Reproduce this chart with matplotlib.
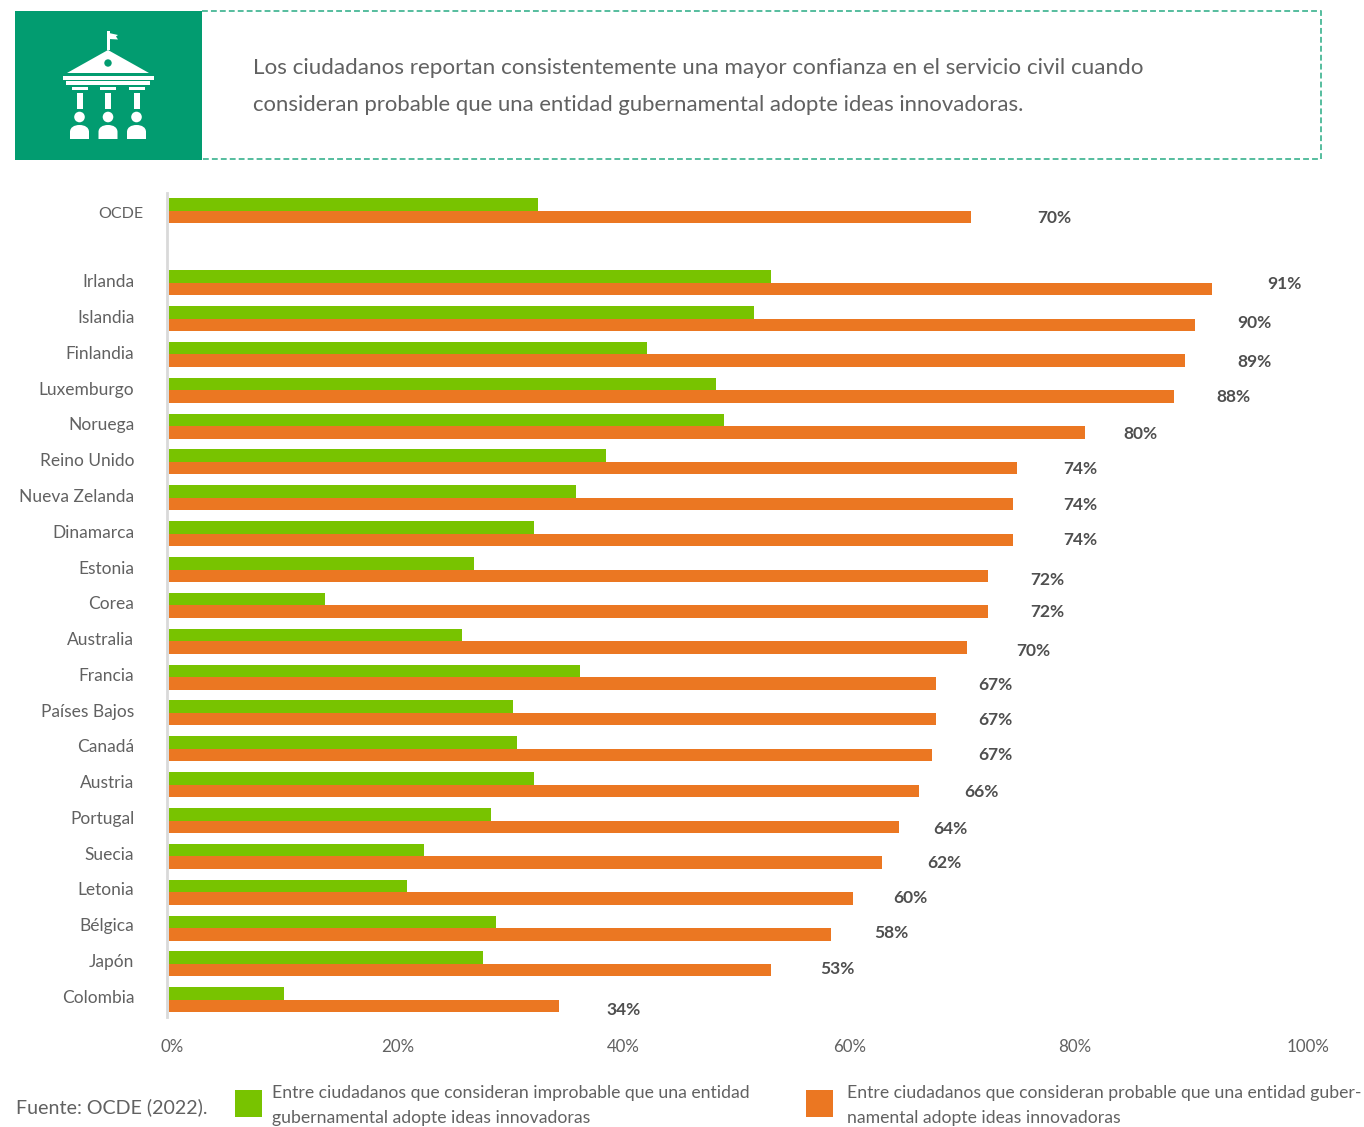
import numpy as np
import matplotlib
matplotlib.use("Agg")
import matplotlib.pyplot as plt
from matplotlib.patches import Rectangle, Polygon, Circle, PathPatch
from matplotlib.path import Path
from matplotlib.transforms import ScaledTranslation

# Survey results, in percent
countries = ["OCDE", "Irlanda", "Islandia", "Finlandia", "Luxemburgo", "Noruega", "Reino Unido",
             "Nueva Zelanda", "Dinamarca", "Estonia", "Corea", "Australia", "Francia",
             "Países Bajos", "Canadá", "Austria", "Portugal", "Suecia", "Letonia",
             "Bélgica", "Japón", "Colombia"]
unlikely = [32.3, 52.7, 51.2, 41.9, 47.9, 48.6, 38.3, 35.6, 32.0, 26.7, 13.7, 25.7,
            36.0, 30.1, 30.5, 32.0, 28.2, 22.3, 20.8, 28.6, 27.5, 10.1]
likely = [70.2, 91.3, 89.8, 89.0, 88.0, 80.2, 74.25, 73.9, 73.9, 71.7, 71.7, 69.85,
          67.2, 67.2, 66.8, 65.7, 63.9, 62.4, 59.9, 58.0, 52.75, 34.15]
# Row index of each country: OCDE is set apart from the rest by one empty row
rows = [0] + list(range(2, 23))
x_ticks = [0, 20, 40, 60, 80, 100]

# Hand-placed centres (px) of the value labels
label_x = [1054, 1284, 1254, 1254, 1233, 1140, 1080, 1080, 1080, 1047, 1047, 1033,
           995, 995, 995, 981, 950, 944, 910, 891, 837, 624]
label_y = [218, 284, 323, 362, 397, 434, 469, 505, 540, 580, 612, 651,
           685, 720, 755, 792, 829, 863, 898, 933, 969, 1010]
# Horizontal nudges (px) of the axis tick labels
tick_nudge = [3, 0, -3, -5, -7.5, -3]

W, H = 1364, 1127
GREEN, ORANGE = "#78C300", "#EB7722"
TEAL, DASH = "#029C70", "#55BD9E"
TEXT, TEXT_DARK = "#616161", "#4F4F4F"
plt.rcParams["font.family"] = ["Lato", "DejaVu Sans"]

fig = plt.figure(figsize=(W / 100, H / 100), dpi=100, facecolor="white")

# Overlay in pixel units for the banner, icon and legend
ov = fig.add_axes([0, 0, 1, 1], zorder=0)
ov.set_xlim(0, W)
ov.set_ylim(H, 0)
ov.axis("off")

# Chart axes: 0 % sits at x=169 px, 11.42 px per point, rows 35.85 px apart
left, right, top, bottom = 167, 1311, 193, 1017
ax = fig.add_axes([left / W, 1 - bottom / H, (right - left) / W, (bottom - top) / H], zorder=1)
ax.patch.set_alpha(0)
ax.set_xlim(-2 / 11.42, 100)
ax.set_ylim(22.48, -0.50)

bar_h = 0.349
y = np.array(rows, dtype=float)
ax.barh(y - bar_h / 2, unlikely, height=bar_h, color=GREEN, linewidth=0)
ax.barh(y + bar_h / 2, likely, height=bar_h, color=ORANGE, linewidth=0)

for s in ("top", "right", "bottom"):
    ax.spines[s].set_visible(False)
ax.spines["left"].set_color("#D9D9D9")
ax.spines["left"].set_linewidth(2)

# Country labels run on a slightly tighter pitch than the bars
label_px = np.array([213.0] + [281 + 35.75 * (r - 2) for r in rows[1:]])
ax.set_yticks((label_px - 211) / 35.85)
ax.set_yticklabels(countries, fontsize=12.5, color=TEXT)
ax.tick_params(axis="y", length=0, pad=23.5)
ax.yaxis.get_major_ticks()[0].set_pad(17)
ax.get_yticklabels()[0].set_fontsize(11.5)

ax.set_xticks(x_ticks)
ax.set_xticklabels([f"{t}%" for t in x_ticks], fontsize=12.2, color=TEXT)
ax.tick_params(axis="x", length=0, pad=15.5)
for lab, dx in zip(ax.get_xticklabels(), tick_nudge):
    lab.set_transform(lab.get_transform() + ScaledTranslation(dx / 100, 0, fig.dpi_scale_trans))

# Value labels for the orange series
for v, lx, ly in zip(likely, label_x, label_y):
    ov.text(lx, ly, f"{round(v)}%", ha="center", va="center", fontsize=12.5,
            fontweight="bold", color=TEXT_DARK)

# Banner: dashed outline open on the side of the green block
ov.plot([202, 1321, 1321, 202], [11, 11, 159, 159], color=DASH, linewidth=1.4, linestyle=(0, (3, 1.6)))
ov.add_patch(Rectangle((15, 11), 187, 149, facecolor=TEAL, edgecolor="none"))
ov.text(253, 68, "Los ciudadanos reportan consistentemente una mayor confianza en el servicio civil cuando",
        fontsize=16.13, color=TEXT, va="center", ha="left")
ov.text(253, 105, "consideran probable que una entidad gubernamental adopte ideas innovadoras.",
        fontsize=15.96, color=TEXT, va="center", ha="left")

# Building-and-citizens icon
def block(x0, y0, x1, y1, color="white"):
    ov.add_patch(Rectangle((x0, y0), x1 - x0, y1 - y0, facecolor=color, edgecolor="none"))

block(107, 31, 109.5, 50)
ov.add_patch(Polygon([(109, 33), (118, 35), (116, 36.5), (118, 39.5), (109, 39)], facecolor="white", edgecolor="none"))
ov.add_patch(Polygon([(108, 50), (149, 73), (67, 73)], facecolor="white", edgecolor="none"))
ov.add_patch(Circle((108, 63), 3.7, facecolor=TEAL, edgecolor="none"))
block(63, 76, 154, 80)
block(66, 81, 150, 85)
for cx in (79.8, 108, 137):
    block(cx - 8, 87, cx + 8, 90)
    block(cx - 2.8, 93, cx + 2.8, 109)
for cx in (79.5, 108, 136.5):
    ov.add_patch(Circle((cx, 117), 5.3, facecolor="white", edgecolor="none"))
    codes = [Path.MOVETO, Path.CURVE4, Path.CURVE4, Path.CURVE4, Path.CURVE4, Path.CURVE4, Path.CURVE4,
             Path.LINETO, Path.LINETO, Path.CLOSEPOLY]
    verts = [(cx - 9.5, 132), (cx - 9.5, 127.5), (cx - 5.5, 125), (cx, 125),
             (cx + 5.5, 125), (cx + 9.5, 127.5), (cx + 9.5, 132),
             (cx + 9.5, 139), (cx - 9.5, 139), (cx - 9.5, 132)]
    ov.add_patch(PathPatch(Path(verts, codes), facecolor="white", edgecolor="none"))

# Source and legend
ov.text(16, 1107, "Fuente: OCDE (2022).", fontsize=14.1, color=TEXT, va="center", ha="left")
ov.add_patch(Rectangle((235, 1090), 27, 27, facecolor=GREEN, edgecolor="none"))
ov.add_patch(Rectangle((806, 1090), 27, 27, facecolor=ORANGE, edgecolor="none"))
legend_size = 12.72
ov.text(272, 1093, "Entre ciudadanos que consideran improbable que una entidad", fontsize=legend_size, color=TEXT, va="center")
ov.text(272, 1118, "gubernamental adopte ideas innovadoras", fontsize=legend_size, color=TEXT, va="center")
ov.text(847, 1093, "Entre ciudadanos que consideran probable que una entidad guber-", fontsize=legend_size, color=TEXT, va="center")
ov.text(847, 1118, "namental adopte ideas innovadoras", fontsize=legend_size, color=TEXT, va="center")

fig.savefig("out.png", dpi=100, facecolor="white")
